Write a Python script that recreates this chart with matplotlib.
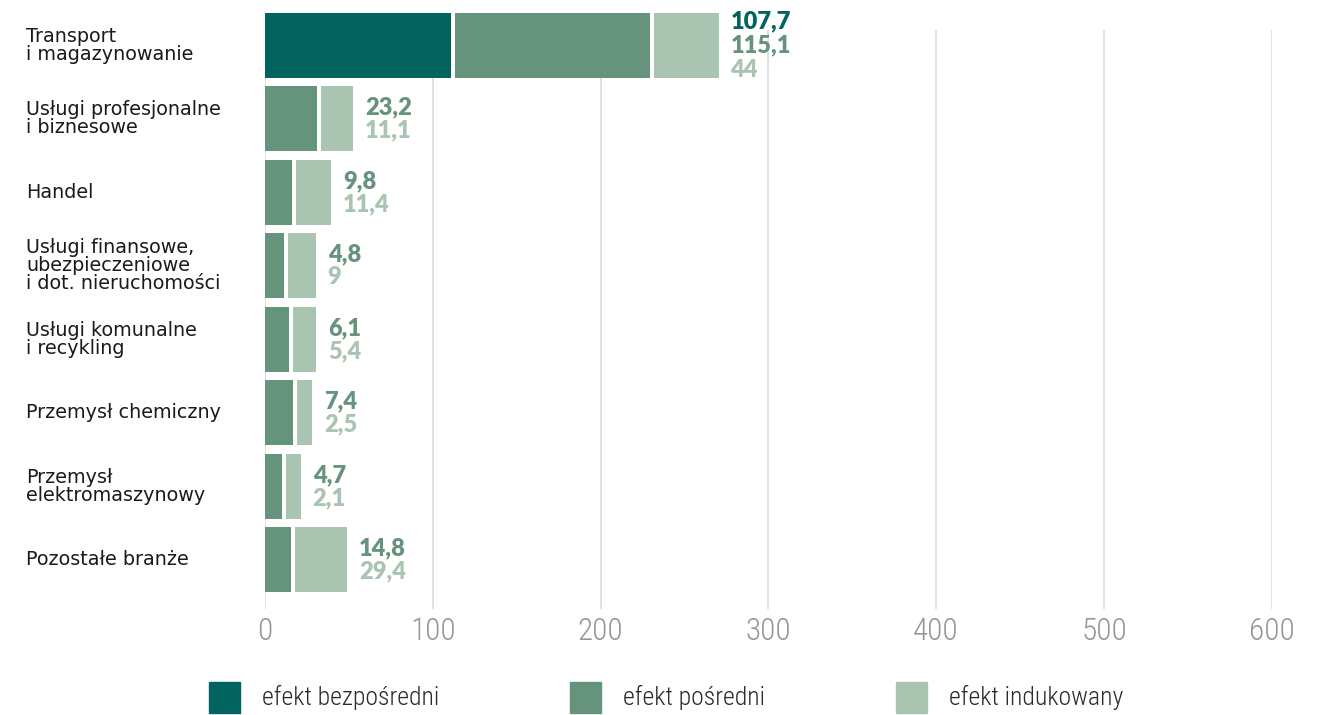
import matplotlib
matplotlib.use("Agg")
import matplotlib.pyplot as plt
from matplotlib import font_manager
from matplotlib.transforms import blended_transform_factory
from matplotlib.patches import Rectangle

# ---------------- data ----------------
categories = [
    "Transport\ni magazynowanie",
    "Usługi profesjonalne\ni biznesowe",
    "Handel",
    "Usługi finansowe,\nubezpieczeniowe\ni dot. nieruchomości",
    "Usługi komunalne\ni recykling",
    "Przemysł chemiczny",
    "Przemysł\nelektromaszynowy",
    "Pozostałe branże",
]
# bar lengths as drawn in the picture (axis units)
bar_direct = [110.8, 0, 0, 0, 0, 0, 0, 0]
bar_indirect = [116.2, 30.8, 16.3, 11.5, 14.3, 16.9, 10.0, 15.3]
bar_induced = [38.5, 19.1, 20.7, 16.3, 13.9, 8.9, 8.9, 31.2]
# printed values
val_direct = [107.7, None, None, None, None, None, None, None]
val_indirect = [115.1, 23.2, 9.8, 4.8, 6.1, 7.4, 4.7, 14.8]
val_induced = [44, 11.1, 11.4, 9, 5.4, 2.5, 2.1, 29.4]
series_names = ["efekt bezpośredni", "efekt pośredni", "efekt indukowany"]
x_ticks = [0, 100, 200, 300, 400, 500, 600]

colors = ["#02635f", "#66937c", "#a9c5b2"]

# ---------------- fonts ----------------
available = {f.name for f in font_manager.fontManager.ttflist}
def pick(names):
    for n in names:
        if n in available:
            return n
    return "DejaVu Sans"

narrow = pick(["Roboto Condensed", "Liberation Sans Narrow", "Open Sans", "DejaVu Sans"])
text_font = pick(["DejaVu Sans"])
num_font = pick(["Lato", "Open Sans", "DejaVu Sans"])

W, H = 1326, 715
fig = plt.figure(figsize=(W / 100, H / 100), dpi=100)

# axes geometry (pixel based)
row0 = 45.5
step = 73.47
ytop, ybot = -0.5, 7.7
ax_top_px = row0 + ytop * step
ax_bot_px = row0 + ybot * step
left_px, right_px = 265.0, 1271.7
ax = fig.add_axes([left_px / W, 1 - ax_bot_px / H,
                   (right_px - left_px) / W, (ax_bot_px - ax_top_px) / H])
ax.set_xlim(0, 600)
ax.set_ylim(ybot, ytop)
for s in ax.spines.values():
    s.set_visible(False)

# grid lines
grid_top = -0.21
ax.vlines(x_ticks, grid_top, ybot - 0.03, colors="#dddddd", linewidth=1.3, zorder=0)

gap = 2.4
bh = 0.885
n = len(categories)
series_bars = [bar_direct, bar_indirect, bar_induced]
series_vals = [val_direct, val_indirect, val_induced]

def fmt(v):
    if float(v).is_integer():
        return str(int(v))
    return ("%.1f" % v).replace(".", ",")

for i in range(n):
    x = 0.0
    first = True
    labels = []
    for k in range(3):
        w = series_bars[k][i]
        if w <= 0:
            continue
        if not first:
            x += gap
        ax.barh(i, w, left=x, height=bh, color=colors[k], linewidth=0, zorder=2,
                clip_on=False)
        x += w
        first = False
        if series_vals[k][i] is not None:
            labels.append((fmt(series_vals[k][i]), colors[k]))
    m = len(labels)
    spacing_px = 24.5 if m == 3 else 23
    for j, (t, c) in enumerate(labels):
        dy = (j - (m - 1) / 2) * spacing_px
        ax.annotate(t, xy=(x, i), xytext=(12 * 0.72, -dy * 0.72),
                    textcoords="offset points", ha="left", va="center",
                    fontsize=17, fontweight="heavy", color=c, family=num_font,
                    annotation_clip=False)

# category labels
trans = blended_transform_factory(fig.transFigure, ax.transData)
for i, c in enumerate(categories):
    ax.text(26 / W, i, c, transform=trans, ha="left", va="center",
            fontsize=13.8, color="#1a1a1a", family=text_font, linespacing=0.93)

# x ticks
ax.set_yticks([])
ax.set_xticks(x_ticks)
ax.set_xticklabels([str(t) for t in x_ticks], family=narrow, fontsize=22.5,
                   color="#959595", fontweight="light")
ax.tick_params(axis="x", length=0, pad=4)

# legend
leg_x = [209, 570, 896]
for k, name in enumerate(series_names):
    fig.patches.append(Rectangle((leg_x[k] / W, 1 - 713 / H), 31 / W, 31 / H,
                                 transform=fig.transFigure, color=colors[k]))
    fig.text((leg_x[k] + 53) / W, 1 - 697 / H, name, ha="left", va="center",
             fontsize=18.5, color="#2a2a2a", family=narrow, fontweight="light")

fig.savefig("out.png", dpi=100)
